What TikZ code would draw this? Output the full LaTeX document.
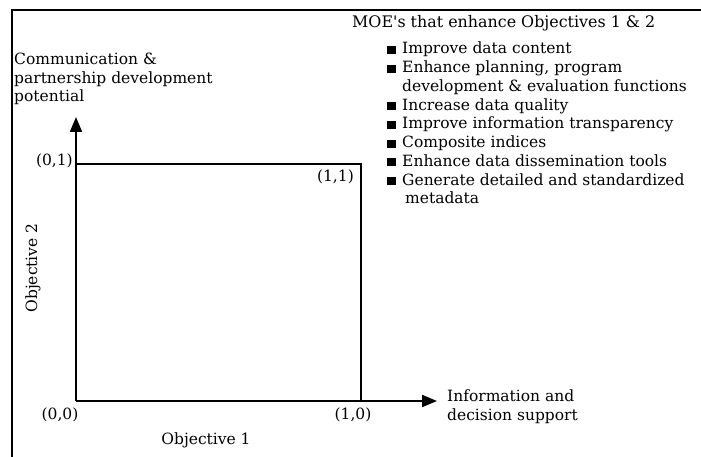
\documentclass[tikz,border=0pt]{standalone}
\usepackage{fontspec}
\setmainfont{DejaVu Serif}
\usepackage{tikz}
\usetikzlibrary{arrows.meta, positioning, calc}

\begin{document}
\begin{tikzpicture}[x=1pt, y=1pt,
		frame/.style={line width=2.6pt},
		axis/.style={line width=2pt, -{Triangle[length=15pt, width=12pt]}},
		box/.style={line width=1.6pt},
		lbl/.style={inner sep=0pt, font=\fontsize{15.5}{18.8}\selectfont, align=left},
		bul/.style={fill, minimum width=9pt, minimum height=8pt, inner sep=0pt}
	]
	\useasboundingbox (0,0) rectangle (701,457);

	% ===== Outer frame (only top and left edges show) =====
	\draw[frame] (12,0) |- (701,447);

	% ===== Axes and the unit square =====
	\coordinate (O)    at (76,56);
	\coordinate (ytip) at (76,340);
	\coordinate (xtip) at (437,56);
	\coordinate (P)    at (361,293);

	\draw[box] (O |- P) -- (P) -- (O -| P);
	\draw[axis] (O) -- (ytip);
	\draw[axis] (O) -- (xtip);

	% corner labels
	\node[lbl, anchor=east] (c01) at (73,296) {(0,1)};
	\node[lbl, anchor=east] (c11) at (354,280) {(1,1)};
	\node[lbl] (c00) at (60,42) {(0,0)};
	\node[lbl] (c10) at (353,42) {(1,0)};

	% axis titles
	\node[lbl] (obj1) at (206,17) {Objective 1};
	\node[lbl, rotate=90] (obj2) at (33,189) {Objective 2};
	\node[lbl, anchor=west, font=\fontsize{15.5}{19}\selectfont] (xname) at (447,50)
		{Information and\\decision support};
	\node[lbl, anchor=west] (yname) at (14,378)
		{Communication \&\\partnership development\\potential};

	% ===== MOE list =====
	\node[lbl, anchor=base west, font=\fontsize{15.9}{18.8}\selectfont] (moe) at (352,429)
		{MOE\textquotesingle s that enhance Objectives 1 \& 2};
	\foreach \txt [count=\r from 0] in {Improve data content,
			{Enhance planning, program},
			{development \& evaluation functions},
			Increase data quality,
			Improve information transparency,
			Composite indices,
			Enhance data dissemination tools,
			Generate detailed and standardized,
			\hspace{3pt}metadata}
		\node[lbl, anchor=base west] (row\r) at (402,403-18.75*\r) {\txt};
	\foreach \r in {0,1,3,4,5,6,7}
		\node[bul] (bul\r) at ($(row\r.base west)+(-11,4)$) {};
\end{tikzpicture}
\end{document}
